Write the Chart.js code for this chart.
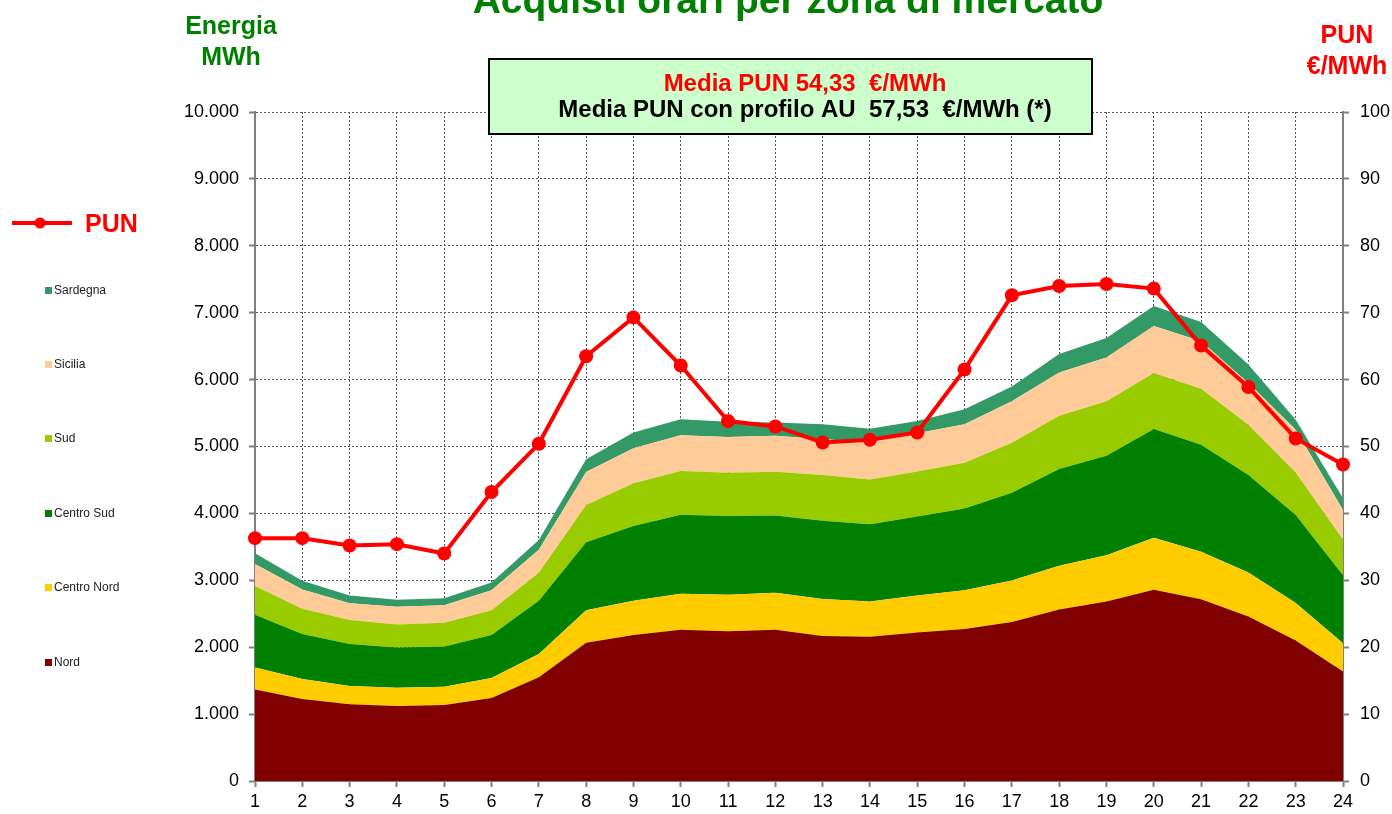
<!DOCTYPE html>
<html><head><meta charset="utf-8">
<script src="https://cdn.jsdelivr.net/npm/chart.js@4.4.1/dist/chart.umd.min.js"></script>
<style>html,body{margin:0;padding:0;background:#fff;overflow:hidden}#wrap{width:1392px;height:814px;position:relative}</style>
</head><body><div id="wrap"><canvas id="c" width="1392" height="814"></canvas></div>
<script>
const hours = ['1','2','3','4','5','6','7','8','9','10','11','12','13','14','15','16','17','18','19','20','21','22','23','24'];
const nord       = [1368,1226,1148,1121,1136,1241,1552,2066,2181,2259,2238,2259,2168,2158,2221,2273,2378,2562,2683,2860,2715,2460,2100,1635];
const centroNord = [330,299,272,274,274,299,347,487,513,541,546,556,552,525,551,578,620,656,693,775,710,655,560,425];
const centroSud  = [787,673,628,602,602,641,795,1017,1118,1180,1179,1154,1170,1155,1181,1223,1312,1444,1486,1625,1600,1460,1315,1015];
const sud        = [430,376,359,341,352,372,420,556,639,654,646,655,683,667,672,683,746,798,813,840,840,750,635,535];
const sicilia    = [330,289,251,268,262,299,341,494,524,536,534,535,535,561,573,577,619,646,657,700,710,625,640,440];
const sardegna   = [158,130,115,104,105,115,148,188,236,236,226,201,226,200,183,221,221,278,288,300,285,275,150,175];
const pun        = [36.3,36.3,35.2,35.4,34.0,43.2,50.4,63.5,69.3,62.1,53.8,53.0,50.6,51.0,52.1,61.5,72.6,74.0,74.3,73.6,65.1,58.9,51.2,47.3];

const zoneNames  = ['Nord','Centro Nord','Centro Sud','Sud','Sicilia','Sardegna'];
const zoneColors = ['#800000','#FFCC00','#008000','#99CC00','#FFCC99','#339966'];
const zoneData   = [nord, centroNord, centroSud, sud, sicilia, sardegna];

const titleText = 'Acquisti orari per zona di mercato';
const leftAxisTitle = ['Energia','MWh'];
const rightAxisTitle = ['PUN','€/MWh'];
const boxLine1 = 'Media PUN 54,33  €/MWh';
const boxLine2 = 'Media PUN con profilo AU  57,53  €/MWh (*)';

function fmtThousands(v){
  const s = Math.round(v).toString();
  return s.replace(/\B(?=(\d{3})+(?!\d))/g, '.');
}

const FONT = '"Liberation Sans", Arial, sans-serif';

const datasets = [{
  label: 'PUN', type: 'line', data: pun, yAxisID: 'y2',
  borderColor: '#FF0000', backgroundColor: '#FF0000', borderWidth: 4,
  pointRadius: 7, pointHoverRadius: 7, pointBackgroundColor: '#FF0000', pointBorderWidth: 0,
  fill: false, tension: 0
}];
zoneData.forEach((d, i) => {
  datasets.push({
    label: zoneNames[i], type: 'line', data: d, yAxisID: 'y',
    borderWidth: 0, borderColor: zoneColors[i], backgroundColor: zoneColors[i],
    pointRadius: 0, fill: i === 0 ? 'origin' : '-1', tension: 0
  });
});

const decor = {
  id: 'decor',
  afterDraw(chart) {
    const ctx = chart.ctx;
    ctx.save();
    // title
    ctx.fillStyle = '#008000';
    ctx.font = 'bold 39px ' + FONT;
    ctx.textAlign = 'center'; ctx.textBaseline = 'alphabetic';
    ctx.fillText(titleText, 788, 13);
    // left axis title
    ctx.font = 'bold 25px ' + FONT;
    ctx.textBaseline = 'middle';
    ctx.fillText(leftAxisTitle[0], 231, 27);
    ctx.fillText(leftAxisTitle[1], 231, 58);
    // right axis title
    ctx.fillStyle = '#FF0000';
    ctx.fillText(rightAxisTitle[0], 1347, 36);
    ctx.fillText(rightAxisTitle[1], 1347, 67);
    // info box
    ctx.fillStyle = '#CCFFCC';
    ctx.fillRect(489, 59, 603, 75);
    ctx.strokeStyle = '#000'; ctx.lineWidth = 2;
    ctx.strokeRect(489, 59, 603, 75);
    ctx.font = 'bold 24px ' + FONT;
    ctx.fillStyle = '#FF0000';
    ctx.fillText(boxLine1, 805, 84);
    ctx.fillStyle = '#000';
    ctx.fillText(boxLine2, 805, 110);
    // legend PUN
    ctx.strokeStyle = '#FF0000'; ctx.lineWidth = 4;
    ctx.beginPath(); ctx.moveTo(12, 223); ctx.lineTo(72, 223); ctx.stroke();
    ctx.fillStyle = '#FF0000';
    ctx.beginPath(); ctx.arc(40, 223, 5.5, 0, Math.PI * 2); ctx.fill();
    ctx.font = 'bold 25px ' + FONT; ctx.textAlign = 'left';
    ctx.fillText('PUN', 85, 225);
    // zone legend (top to bottom: Sardegna ... Nord)
    const ys = [663, 588, 514, 439, 365, 291];
    ctx.font = '12px ' + FONT;
    for (let i = 0; i < zoneNames.length; i++) {
      ctx.fillStyle = zoneColors[i];
      ctx.fillRect(45, ys[i] - 4, 7, 7);
      ctx.fillStyle = '#222';
      ctx.fillText(zoneNames[i], 54, ys[i]);
    }
    ctx.restore();
  }
};

new Chart(document.getElementById('c'), {
  data: { labels: hours, datasets },
  options: {
    responsive: false, animation: false, devicePixelRatio: 1,
    layout: { padding: { left: 175, right: 0, top: 112, bottom: 0 } },
    plugins: { legend: { display: false }, tooltip: { enabled: false } },
    scales: {
      x: {
        type: 'category', offset: false,
        grid: { color: '#555', lineWidth: 1, tickLength: 6, tickColor: '#808080', tickWidth: 2, tickBorderDash: [] },
        border: { display: true, color: '#808080', width: 2, dash: [2, 2] },
        ticks: { color: '#000', font: { family: FONT, size: 18 }, padding: 4, maxRotation: 0, autoSkip: false },
        afterFit(s) { s.height = 33; }
      },
      y: {
        type: 'linear', position: 'left', stacked: true, min: 0, max: 10000,
        grid: { color: '#555', lineWidth: 1, tickLength: 6, tickColor: '#808080', tickWidth: 2, tickBorderDash: [] },
        border: { display: true, color: '#808080', width: 2, dash: [2, 2] },
        ticks: { stepSize: 1000, color: '#000', font: { family: FONT, size: 18 }, padding: 10, callback: v => fmtThousands(v) },
        afterFit(s) { s.width = 80; }
      },
      y2: {
        type: 'linear', position: 'right', stacked: false, min: 0, max: 100,
        grid: { drawOnChartArea: false, drawTicks: true, tickLength: 6, tickColor: '#808080', tickWidth: 2, tickBorderDash: [] },
        border: { display: true, color: '#808080', width: 2 },
        ticks: { stepSize: 10, color: '#000', font: { family: FONT, size: 18 }, padding: 11 },
        afterFit(s) { s.width = 49; }
      }
    }
  },
  plugins: [decor]
});
</script>
</body></html>
